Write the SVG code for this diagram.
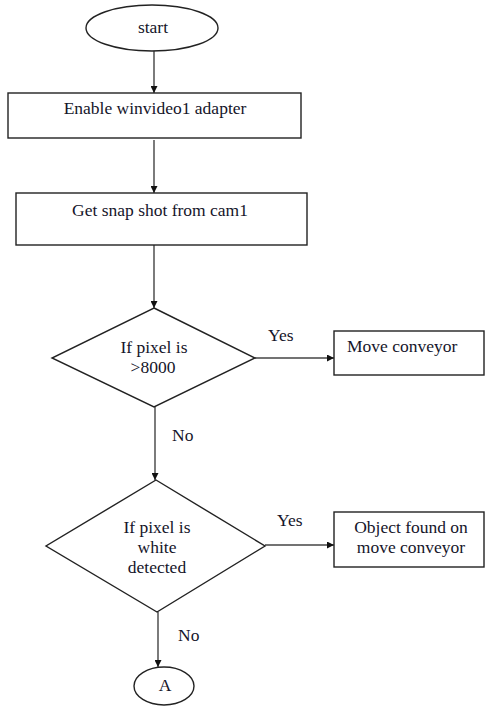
<svg xmlns="http://www.w3.org/2000/svg" width="485" height="706" viewBox="0 0 485 706">
  <style>
    .shape { fill: #ffffff; stroke: #222222; stroke-width: 1.4; }
    .label { font-family: "Liberation Serif", "Times New Roman", serif; font-size: 17.5px; fill: #15152a; }
    .mid { text-anchor: middle; }
    .conn { stroke: #444444; stroke-width: 1.4; fill: none; marker-end: url(#arrow); }
  </style>
  <defs>
    <marker id="arrow" viewBox="0 0 10 10" refX="10" refY="5" markerWidth="7" markerHeight="7" markerUnits="userSpaceOnUse" orient="auto">
      <path d="M0,0 L10,5 L0,10 z" fill="#111111"/>
    </marker>
  </defs>
  <rect width="485" height="706" fill="#ffffff"/>

  <!-- connectors -->
  <g id="connectors">
    <line class="conn" x1="154" y1="51" x2="154" y2="93"/>
    <line class="conn" x1="154" y1="140" x2="154" y2="193"/>
    <line class="conn" x1="154" y1="245" x2="154" y2="308"/>
    <line class="conn" x1="255" y1="358" x2="334" y2="358"/>
    <line class="conn" x1="155" y1="407" x2="155" y2="480"/>
    <line class="conn" x1="265" y1="545" x2="334" y2="545"/>
    <line class="conn" x1="158" y1="612" x2="158" y2="667"/>
    <text class="label" x="268" y="341">Yes</text>
    <text class="label" x="172" y="441">No</text>
    <text class="label" x="277" y="526">Yes</text>
    <text class="label" x="178" y="641">No</text>
  </g>

  <g id="start">
    <ellipse class="shape" cx="152" cy="28" rx="66" ry="23"/>
    <text class="label mid" x="153" y="33">start</text>
  </g>

  <g id="enable-adapter">
    <rect class="shape" x="8" y="93" width="293" height="45"/>
    <text class="label mid" x="155" y="114">Enable winvideo1 adapter</text>
  </g>

  <g id="snapshot">
    <rect class="shape" x="16" y="193" width="291" height="52"/>
    <text class="label mid" x="160" y="216">Get snap shot from cam1</text>
  </g>

  <g id="check-pixel-count">
    <polygon class="shape" points="154,308 255,358 154,407 52,358"/>
    <text class="label mid" x="154" y="353">If pixel is</text>
    <text class="label mid" x="153" y="373">&gt;8000</text>
  </g>

  <g id="move-conveyor">
    <rect class="shape" x="334" y="331" width="150" height="44"/>
    <text class="label" x="347" y="352">Move conveyor</text>
  </g>

  <g id="check-white">
    <polygon class="shape" points="156,480 265,546 157,612 46,546"/>
    <text class="label mid" x="157" y="533">If pixel is</text>
    <text class="label mid" x="157" y="553">white</text>
    <text class="label mid" x="157" y="573">detected</text>
  </g>

  <g id="object-found">
    <rect class="shape" x="334" y="512" width="150" height="55"/>
    <text class="label mid" x="411" y="533">Object found on</text>
    <text class="label mid" x="411" y="553">move conveyor</text>
  </g>

  <g id="connector-a">
    <ellipse class="shape" cx="164" cy="686" rx="30" ry="19"/>
    <text class="label mid" x="165" y="691">A</text>
  </g>
</svg>
